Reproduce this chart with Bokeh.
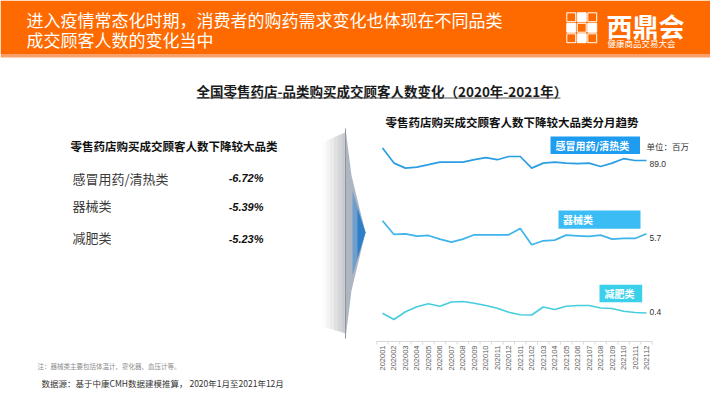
import numpy as np
from bokeh.plotting import figure
from bokeh.models import Range1d
from bokeh.core.properties import value
from bokeh.embed import file_html
from bokeh.resources import INLINE

# ---------------- data ----------------
months = ["202001", "202002", "202003", "202004", "202005", "202006",
          "202007", "202008", "202009", "202010", "202011", "202012",
          "202101", "202102", "202103", "202104", "202105", "202106",
          "202107", "202108", "202109", "202110", "202111", "202112"]
series_names = ["感冒用药/清热类", "器械类", "减肥类"]
cold = [95.2, 87.7, 85.2, 85.7, 86.9, 88.2, 88.2, 88.2, 89.4, 90.4, 89.4, 91.0,
        91.0, 85.2, 87.7, 88.2, 87.7, 87.4, 87.7, 86.0, 87.7, 89.9, 89.0, 89.0]
device = [6.09, 5.68, 5.70, 5.63, 5.65, 5.54, 5.45, 5.54, 5.67, 5.67, 5.67, 5.67,
          5.86, 5.37, 5.49, 5.51, 5.66, 5.64, 5.62, 5.66, 5.54, 5.56, 5.56, 5.70]
slim = [0.399, 0.374, 0.405, 0.425, 0.437, 0.427, 0.444, 0.446, 0.439, 0.430, 0.419, 0.403,
        0.393, 0.392, 0.424, 0.414, 0.427, 0.430, 0.430, 0.420, 0.418, 0.407, 0.402, 0.400]
decline_pct = ["-6.72%", "-5.39%", "-5.23%"]
unit_label = "单位：百万"

header_lines = ["进入疫情常态化时期，消费者的购药需求变化也体现在不同品类", "成交顾客人数的变化当中"]
main_title = "全国零售药店-品类购买成交顾客人数变化（2020年-2021年）"
left_title = "零售药店购买成交顾客人数下降较大品类"
chart_title = "零售药店购买成交顾客人数下降较大品类分月趋势"
note_text = "注：器械类主要包括体温计、雾化器、血压计等。"
source_text = "数据源：基于中康CMH数据建模推算， 2020年1月至2021年12月"

CJK = "Noto Sans CJK SC"
LAT = "Liberation Sans"

W, H = 710, 399
OFF = 0  # data coords of the main ranges = picture pixels

p = figure(width=W, height=H, x_range=Range1d(OFF, OFF + W), y_range=Range1d(OFF + H, OFF),
           output_backend="svg", toolbar_location=None, min_border=0,
           x_axis_location=None, y_axis_location=None)
p.grid.visible = False
p.outline_line_color = None
p.background_fill_color = "white"
p.border_fill_color = "white"

# month scale: first month at px 382, last at 646
x0_px, x1_px = 382.0, 646.0
step = (x1_px - x0_px) / (len(months) - 1)
m_start = -(x0_px - OFF) / step
m_end = (len(months) - 1) + (OFF + W - x1_px) / step
p.extra_x_ranges = {"m": Range1d(m_start, m_end)}


def band_range(anchor_px, anchor_val, per_px):
    bottom = anchor_val + (anchor_px - (OFF + H)) * per_px
    top = anchor_val + (anchor_px - OFF) * per_px
    return Range1d(bottom, top)


p.extra_y_ranges = {
    "y1": band_range(160.0, cold[-1], 0.5),
    "y2": band_range(233.3, device[-1], 0.03),
    "y3": band_range(312.5, slim[-1], 0.004),
}


def txt(x, y, s, size, color, style="normal", align="left", font=CJK, **kw):
    p.text(x=[x], y=[y], text=[s], text_font=value(font), text_font_size=f"{size}px",
           text_color=color, text_align=align, text_baseline="middle",
           text_font_style=style, **kw)


# ---------------- header ----------------
p.quad(left=0, right=720, top=0, bottom=53.5, fill_color="#ff6a00", line_color=None)
p.quad(left=0, right=720, top=53.5, bottom=57, fill_color="#f9a06a", line_color=None)
txt(26, 19, header_lines[0], 17, "white")
txt(26, 39, header_lines[1], 17, "white")

# logo
cell = 10.5
lx, ly = 565.5, 11.5
for r in range(3):
    for c in range(3):
        filled = (r + c) % 2 == 1
        p.quad(left=lx + c * cell + 0.8, right=lx + (c + 1) * cell - 0.8,
               top=ly + r * cell + 0.8, bottom=ly + (r + 1) * cell - 0.8,
               fill_color="white" if filled else None, line_color="white",
               line_width=1.0)
txt(606, 25, "西鼎会", 26, "white", "bold")
txt(607, 42, "健康商品交易大会", 8.5, "white")

# ---------------- titles ----------------
txt(196, 90, main_title, 13.5, "#1a1a1a", "bold")
p.line(x=[196, 560], y=[97.5, 97.5], line_color="#555555", line_width=1.2)
txt(385, 121.5, chart_title, 11.5, "#111111", "bold")
txt(70, 145, left_title, 11.5, "#111111", "bold")

# left list
list_y = [177.5, 205, 237]
pct_y = [177.5, 206.5, 238.3]
for name, yy in zip(series_names, list_y):
    txt(72, yy, name, 13, "#3a3a3a")
for pct, yy in zip(decline_pct, pct_y):
    txt(263, yy, pct, 11, "#111111", "bold italic", align="right", font=LAT)

# ---------------- arrow decoration ----------------
grays = ["#fbfbfb", "#f3f3f4", "#e9eaeb", "#dfe0e2", "#d4d6d9", "#caccd0"]
sw = 23.0 / len(grays)
for j, g in enumerate(grays):
    xa = 322 + j * sw
    xb = xa + sw + 0.3
    ta, tb = 142 - (xa - 322) * 0.45, 142 - (xb - 322) * 0.45
    ba, bb = 326 + (xa - 322) * 0.3, 326 + (xb - 322) * 0.3
    p.patch(x=[xa, xb, xb, xa], y=[ta, tb, bb, ba], fill_color=g, line_color=None)
p.patch(x=[345, 351, 365, 351, 345], y=[128, 175, 232, 290, 338],
        fill_color="#aeb6c1", line_color=None)
p.patch(x=[352, 365, 352], y=[190, 232, 275], fill_color="#6f9dcc", line_color=None)
p.patch(x=[357, 365, 357], y=[208, 232, 258], fill_color="#2f7fc8", line_color=None)
p.line(x=[345, 345], y=[128, 338], line_color="#8f959e", line_width=1)

# ---------------- chart ----------------
idx = list(range(len(months)))
colors = ["#2b9de2", "#3db4ec", "#46cedf"]
data = [cold, device, slim]
ranges = ["y1", "y2", "y3"]
lab_dy = [3.5, 4, -1.5]
for vals, col, rn, dy in zip(data, colors, ranges, lab_dy):
    p.line(x=idx, y=vals, line_color=col, line_width=1.7, x_range_name="m", y_range_name=rn)
    p.text(x=[idx[-1]], y=[vals[-1]], text=["{:.1f}".format(vals[-1])], x_range_name="m",
           y_range_name=rn, x_offset=3, y_offset=dy, text_font=value(LAT),
           text_font_size="8.5px", text_color="#333333", text_align="left",
           text_baseline="middle")

# series name boxes
boxes = [(550, 639.5, 136, 153.5, "#1e9cf0", 555, 145),
         (558, 640, 210, 228.3, "#3cbcf4", 562.5, 219),
         (599, 641.7, 284.3, 301.7, "#3ad0ea", 604, 293)]
for (l, r, t, b, c, tx, ty), name in zip(boxes, series_names):
    p.quad(left=l, right=r, top=t, bottom=b, fill_color=c, line_color=None)
    txt(tx, ty, name, 10, "white", "bold")
txt(646, 145.5, unit_label, 8.5, "#333333")

# axis line, ticks and labels
p.line(x=[-0.5, len(months) - 0.5], y=[341, 341], x_range_name="m",
       line_color="#d9d9d9", line_width=1)
tick_x = [i - 0.5 for i in range(len(months) + 1)]
p.segment(x0=tick_x, x1=tick_x, y0=[341] * len(tick_x), y1=[344] * len(tick_x),
          x_range_name="m", line_color="#d9d9d9", line_width=1)
p.text(x=idx, y=[345] * len(idx), text=months, angle=np.pi / 2, x_range_name="m",
       text_font=value(LAT), text_font_size="7.5px", text_color="#595959",
       text_align="right", text_baseline="middle")

# ---------------- footnotes ----------------
txt(37, 365, note_text, 6.5, "#8c8c8c")
txt(41, 382.5, source_text, 8.5, "#333333")

open("out.html", "w").write(file_html(p, INLINE))
